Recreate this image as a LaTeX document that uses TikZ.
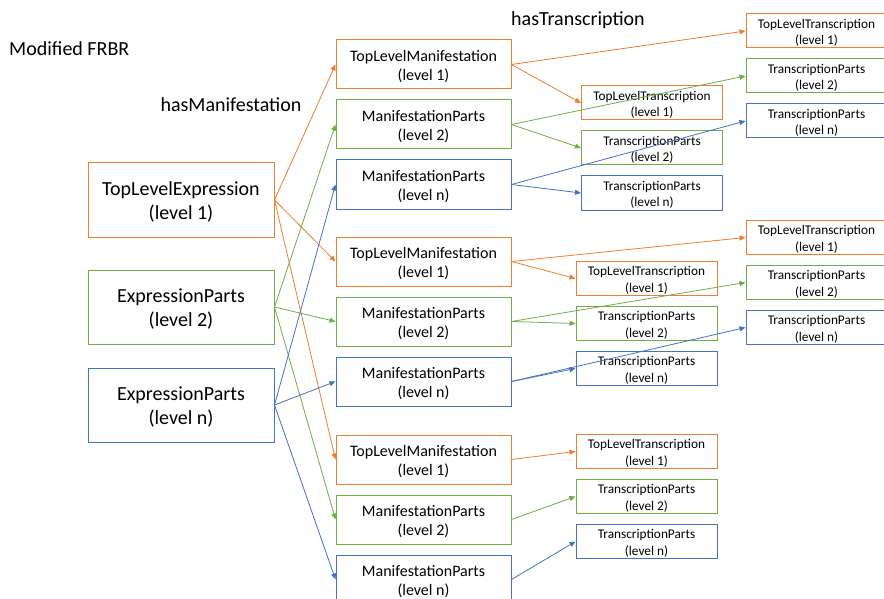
\documentclass[tikz,border=0pt]{standalone}
\usepackage{fontspec}
\setmainfont{Carlito}
\usepackage{tikz}
\usetikzlibrary{arrows.meta, positioning}
\definecolor{frbrorange}{HTML}{ED7D31}
\definecolor{frbrgreen}{HTML}{70AD47}
\definecolor{frbrblue}{HTML}{4472C4}
% two centred lines, set a little below the middle of the box
\newlength{\textdrop}
\newcommand{\lvl}[2]{\raisebox{-\textdrop}[\height][\depth]{\begin{tabular}{@{}c@{}}#1\\#2\end{tabular}}}
\tikzstyle{expr} = [rectangle, draw, line width=1pt, minimum width=186pt, minimum height=74pt, font=\fontsize{20}{24}\selectfont, execute at begin node={\setlength{\textdrop}{3pt}}]
\tikzstyle{manif} = [rectangle, draw, line width=1pt, minimum width=175pt, minimum height=49pt, font=\fontsize{16}{19}\selectfont, execute at begin node={\setlength{\textdrop}{2.5pt}}]
\tikzstyle{transc} = [rectangle, draw, line width=1pt, minimum width=141pt, minimum height=34pt, inner ysep=0pt, font=\fontsize{13.3}{16.5}\selectfont, execute at begin node={\setlength{\textdrop}{2pt}}]
\tikzstyle{heading} = [inner sep=0pt, font=\fontsize{20}{24}\selectfont]
\tikzstyle{arrow} = [line width=0.8pt, -{Triangle[length=6pt, width=5pt]}]

\begin{document}
\begin{tikzpicture}[x=1pt, y=1pt, node distance=10pt]
        \useasboundingbox (0,0) rectangle (884,-599);
        \node (title) [heading, anchor=base west] at (9,-56) {Modified FRBR};
        \node (has_man) [heading, anchor=base] at (231,-112) {hasManifestation};
        \node (has_tr) [heading, anchor=base] at (578,-26) {hasTranscription};

        % expressions
        \node (tl_expr) [expr, draw=frbrorange] at (181,-200) {\lvl{TopLevelExpression}{(level 1)}};
        \node (expr_2) [expr, draw=frbrgreen] at (181,-307) {\lvl{ExpressionParts}{(level 2)}};
        \node (expr_n) [expr, draw=frbrblue] at (181,-405) {\lvl{ExpressionParts}{(level n)}};

        % manifestations
        \node (man1_top) [manif, draw=frbrorange] at (423.5,-64.5) {\lvl{TopLevelManifestation}{(level 1)}};
        \node (man1_2) [manif, draw=frbrgreen, below=of man1_top] {\lvl{ManifestationParts}{(level 2)}};
        \node (man1_n) [manif, draw=frbrblue, below=of man1_2] {\lvl{ManifestationParts}{(level n)}};
        \node (man2_top) [manif, draw=frbrorange] at (423.5,-261.5) {\lvl{TopLevelManifestation}{(level 1)}};
        \node (man2_2) [manif, draw=frbrgreen, below=of man2_top] {\lvl{ManifestationParts}{(level 2)}};
        \node (man2_n) [manif, draw=frbrblue, below=of man2_2] {\lvl{ManifestationParts}{(level n)}};
        \node (man3_top) [manif, draw=frbrorange] at (423.5,-459.5) {\lvl{TopLevelManifestation}{(level 1)}};
        \node (man3_2) [manif, draw=frbrgreen, below=of man3_top] {\lvl{ManifestationParts}{(level 2)}};
        \node (man3_n) [manif, draw=frbrblue, below=of man3_2] {\lvl{ManifestationParts}{(level n)}};

        % transcriptions
        \node (tra1_top) [transc, draw=frbrorange] at (652,-103) {\lvl{TopLevelTranscription}{(level 1)}};
        \node (tra1_2) [transc, draw=frbrgreen, below=of tra1_top] {\lvl{TranscriptionParts}{(level 2)}};
        \node (tra1_n) [transc, draw=frbrblue, below=of tra1_2] {\lvl{TranscriptionParts}{(level n)}};
        \node (trb1_top) [transc, draw=frbrorange] at (816.5,-31) {\lvl{TopLevelTranscription}{(level 1)}};
        \node (trb1_2) [transc, draw=frbrgreen, below=of trb1_top] {\lvl{TranscriptionParts}{(level 2)}};
        \node (trb1_n) [transc, draw=frbrblue, below=of trb1_2] {\lvl{TranscriptionParts}{(level n)}};
        \node (tra2_top) [transc, draw=frbrorange] at (646.5,-278.5) {\lvl{TopLevelTranscription}{(level 1)}};
        \node (tra2_2) [transc, draw=frbrgreen, below=of tra2_top] {\lvl{TranscriptionParts}{(level 2)}};
        \node (tra2_n) [transc, draw=frbrblue, below=of tra2_2] {\lvl{TranscriptionParts}{(level n)}};
        \node (trb2_top) [transc, draw=frbrorange] at (816.5,-237.5) {\lvl{TopLevelTranscription}{(level 1)}};
        \node (trb2_2) [transc, draw=frbrgreen, below=of trb2_top] {\lvl{TranscriptionParts}{(level 2)}};
        \node (trb2_n) [transc, draw=frbrblue, below=of trb2_2] {\lvl{TranscriptionParts}{(level n)}};
        \node (tra3_top) [transc, draw=frbrorange] at (646.5,-451.5) {\lvl{TopLevelTranscription}{(level 1)}};
        \node (tra3_2) [transc, draw=frbrgreen, below=of tra3_top] {\lvl{TranscriptionParts}{(level 2)}};
        \node (tra3_n) [transc, draw=frbrblue, below=of tra3_2] {\lvl{TranscriptionParts}{(level n)}};

        % hasManifestation
        \draw[arrow, frbrorange] (tl_expr.east) -- (man1_top.west);
        \draw[arrow, frbrorange] (tl_expr.east) -- (man2_top.west);
        \draw[arrow, frbrorange] (tl_expr.east) -- (man3_top.west);
        \draw[arrow, frbrgreen] (expr_2.east) -- (man1_2.west);
        \draw[arrow, frbrgreen] (expr_2.east) -- (man2_2.west);
        \draw[arrow, frbrgreen] (expr_2.east) -- (man3_2.west);
        \draw[arrow, frbrblue] (expr_n.east) -- (man1_n.west);
        \draw[arrow, frbrblue] (expr_n.east) -- (man2_n.west);
        \draw[arrow, frbrblue] (expr_n.east) -- (man3_n.west);

        % hasTranscription
        \draw[arrow, frbrorange] (man1_top.east) -- (trb1_top.west);
        \draw[arrow, frbrorange] (man1_top.east) -- (tra1_top.west);
        \draw[arrow, frbrgreen] (man1_2.east) -- (trb1_2.west);
        \draw[arrow, frbrgreen] (man1_2.east) -- (tra1_2.west);
        \draw[arrow, frbrblue] (man1_n.east) -- (trb1_n.west);
        \draw[arrow, frbrblue] (man1_n.east) -- (tra1_n.west);
        \draw[arrow, frbrorange] (man2_top.east) -- (trb2_top.west);
        \draw[arrow, frbrorange] (man2_top.east) -- (tra2_top.west);
        \draw[arrow, frbrgreen] (man2_2.east) -- (trb2_2.west);
        \draw[arrow, frbrgreen] (man2_2.east) -- (tra2_2.west);
        \draw[arrow, frbrblue] (man2_n.east) -- (trb2_n.west);
        \draw[arrow, frbrblue] (man2_n.east) -- (tra2_n.west);
        \draw[arrow, frbrorange] (man3_top.east) -- (tra3_top.west);
        \draw[arrow, frbrgreen] (man3_2.east) -- (tra3_2.west);
        \draw[arrow, frbrblue] (man3_n.east) -- (tra3_n.west);
    \end{tikzpicture}
\end{document}
